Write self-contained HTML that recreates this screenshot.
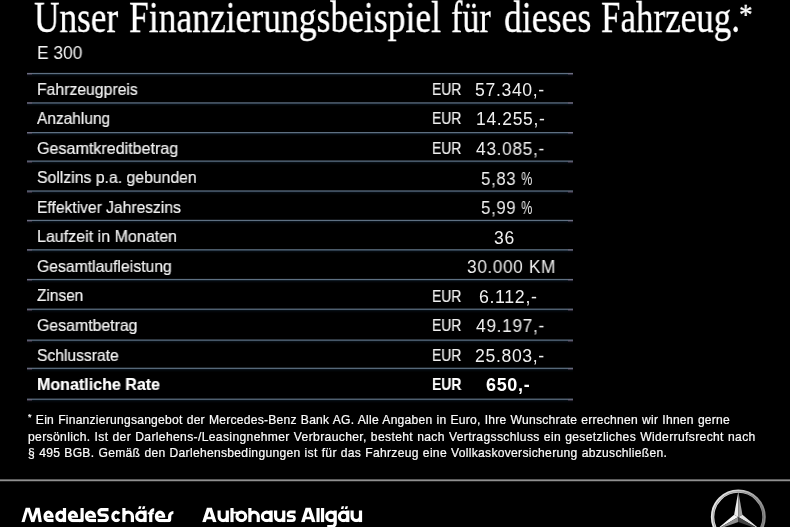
<!DOCTYPE html>
<html><head><meta charset="utf-8">
<style>
html,body{margin:0;padding:0;background:#000;}
body{width:790px;height:527px;position:relative;overflow:hidden;-webkit-font-smoothing:antialiased;font-family:"Liberation Sans",sans-serif;color:#fff;}
.title{will-change:transform;position:absolute;left:34.3px;top:-5.9px;font-family:"Liberation Serif",serif;font-size:44px;line-height:48px;white-space:nowrap;transform-origin:0 0;transform:scaleX(0.805);color:#fff;-webkit-text-stroke:0.35px #fff;}
.model{will-change:transform;position:absolute;left:37.3px;top:43px;font-size:18px;line-height:20px;white-space:nowrap;transform-origin:0 0;transform:scaleX(0.965);color:#f4f4f4;}
.ln{position:absolute;left:27px;width:546px;height:6px;}
.lnend{position:absolute;width:5px;height:2px;background:rgba(150,110,140,0.28);}
.lab,.eur,.val{will-change:transform;position:absolute;white-space:nowrap;line-height:20px;color:#f0f0f0;-webkit-text-stroke:0.2px #f0f0f0;}
.lab{left:36.8px;font-size:16.5px;letter-spacing:0;transform-origin:0 0;transform:scaleX(0.94);}
.eur{left:431.5px;font-size:17px;transform-origin:0 0;transform:scaleX(0.82);}
.val{left:475px;font-size:17.5px;letter-spacing:0.65px;transform-origin:0 0;-webkit-text-stroke:0;}
.pc{display:inline-block;transform-origin:0 0;transform:scaleX(0.73);}
.b{font-weight:bold;color:#fff;}
.foot{will-change:transform;position:absolute;left:28px;font-size:12.1px;line-height:16px;white-space:nowrap;color:#fafafa;-webkit-text-stroke:0.22px #fafafa;}
.ast{font-size:9px;position:relative;top:-3.6px;line-height:0;}
.f1{top:411.8px;letter-spacing:0.238px;word-spacing:0.5px;}.f2{top:428.6px;letter-spacing:0.36px;word-spacing:0.4px;}.f3{top:445.1px;letter-spacing:0.295px;word-spacing:0.45px;}
.hr{position:absolute;left:0;top:479px;width:790px;height:3px;background:linear-gradient(#5a5a5a 0,#5a5a5a 1px,#909090 1px,#909090 2px,#222 2px,#222 3px);}
</style></head><body>
<div class="title" style="left:34.20px;transform:scaleX(0.8010)">Unser</div>
<div class="title" style="left:128.69px;transform:scaleX(0.8078)">Finanzierungsbeispiel</div>
<div class="title" style="left:451.13px;transform:scaleX(0.7740)">für</div>
<div class="title" style="left:503.79px;transform:scaleX(0.8114)">dieses</div>
<div class="title" style="left:600.70px;transform:scaleX(0.7953)">Fahrzeug.</div>
<div class="title" style="left:739.0px;top:-9.7px;font-size:30px;transform:scaleX(0.9)">*</div>
<div class="model">E 300</div>
<div class="ln" style="top:71px;background:linear-gradient(rgb(0,0,0) 0px,rgb(0,0,0) 1px,rgb(9,11,13) 1px,rgb(9,11,13) 2px,rgb(94,112,130) 2px,rgb(94,112,130) 3px,rgb(18,29,39) 3px,rgb(18,29,39) 4px,rgb(4,8,12) 4px,rgb(4,8,12) 5px,rgb(2,3,5) 5px,rgb(2,3,5) 6px)"></div>
<div class="lnend" style="top:73px;left:27px"></div><div class="lnend" style="top:73px;left:568px"></div>
<div class="lab l0" style="top:79px;transform:scaleX(0.9549)">Fahrzeugpreis</div>
<div class="eur" style="top:80px">EUR</div>
<div class="val v0" style="top:80px;left:474.69px;transform:scaleX(1.0060)">57.340,-</div>
<div class="ln" style="top:100px;background:linear-gradient(rgb(0,0,0) 0px,rgb(0,0,0) 1px,rgb(0,0,0) 1px,rgb(0,0,0) 2px,rgb(66,78,91) 2px,rgb(66,78,91) 3px,rgb(54,70,86) 3px,rgb(54,70,86) 4px,rgb(6,11,17) 4px,rgb(6,11,17) 5px,rgb(2,5,7) 5px,rgb(2,5,7) 6px)"></div>
<div class="lnend" style="top:102px;left:27px"></div><div class="lnend" style="top:102px;left:568px"></div>
<div class="lab l1" style="top:108px;transform:scaleX(0.9374)">Anzahlung</div>
<div class="eur" style="top:109px">EUR</div>
<div class="val v1" style="top:109px;left:475.51px;transform:scaleX(0.9940)">14.255,-</div>
<div class="ln" style="top:130px;background:linear-gradient(rgb(0,0,0) 0px,rgb(0,0,0) 1px,rgb(0,0,0) 1px,rgb(0,0,0) 2px,rgb(94,112,130) 2px,rgb(94,112,130) 3px,rgb(27,39,52) 3px,rgb(27,39,52) 4px,rgb(4,9,13) 4px,rgb(4,9,13) 5px,rgb(2,3,5) 5px,rgb(2,3,5) 6px)"></div>
<div class="lnend" style="top:132px;left:27px"></div><div class="lnend" style="top:132px;left:568px"></div>
<div class="lab l2" style="top:138px;transform:scaleX(0.9748)">Gesamtkreditbetrag</div>
<div class="eur" style="top:139px">EUR</div>
<div class="val v2" style="top:139px;left:475.70px;transform:scaleX(0.9912)">43.085,-</div>
<div class="ln" style="top:159px;background:linear-gradient(rgb(0,0,0) 0px,rgb(0,0,0) 1px,rgb(47,56,65) 1px,rgb(47,56,65) 2px,rgb(70,87,104) 2px,rgb(70,87,104) 3px,rgb(7,14,20) 3px,rgb(7,14,20) 4px,rgb(3,5,8) 4px,rgb(3,5,8) 5px,rgb(1,2,3) 5px,rgb(1,2,3) 6px)"></div>
<div class="lnend" style="top:161px;left:27px"></div><div class="lnend" style="top:161px;left:568px"></div>
<div class="lab l3" style="top:167px;transform:scaleX(0.9566)">Sollzins p.a. gebunden</div>
<div class="val v3" style="top:169px;left:480.84px;transform:scaleX(0.9600)">5,83 <span class=pc>%</span></div>
<div class="ln" style="top:189px;background:linear-gradient(rgb(0,0,0) 0px,rgb(0,0,0) 1px,rgb(56,67,78) 1px,rgb(56,67,78) 2px,rgb(62,78,95) 2px,rgb(62,78,95) 3px,rgb(6,12,19) 3px,rgb(6,12,19) 4px,rgb(2,5,7) 4px,rgb(2,5,7) 5px,rgb(1,2,3) 5px,rgb(1,2,3) 6px)"></div>
<div class="lnend" style="top:191px;left:27px"></div><div class="lnend" style="top:191px;left:568px"></div>
<div class="lab l4" style="top:197px;transform:scaleX(0.9465)">Effektiver Jahreszins</div>
<div class="val v4" style="top:198px;left:480.84px;transform:scaleX(0.9600)">5,99 <span class=pc>%</span></div>
<div class="ln" style="top:218px;background:linear-gradient(rgb(0,0,0) 0px,rgb(0,0,0) 1px,rgb(19,22,26) 1px,rgb(19,22,26) 2px,rgb(94,112,130) 2px,rgb(94,112,130) 3px,rgb(9,18,27) 3px,rgb(9,18,27) 4px,rgb(4,7,11) 4px,rgb(4,7,11) 5px,rgb(1,3,4) 5px,rgb(1,3,4) 6px)"></div>
<div class="lnend" style="top:220px;left:27px"></div><div class="lnend" style="top:220px;left:568px"></div>
<div class="lab l5" style="top:226px;transform:scaleX(0.9725)">Laufzeit in Monaten</div>
<div class="val v5" style="top:228px;left:493.92px;transform:scaleX(0.9842)">36</div>
<div class="ln" style="top:247px;background:linear-gradient(rgb(0,0,0) 0px,rgb(0,0,0) 1px,rgb(0,0,0) 1px,rgb(0,0,0) 2px,rgb(75,90,104) 2px,rgb(75,90,104) 3px,rgb(45,60,75) 3px,rgb(45,60,75) 4px,rgb(5,10,15) 4px,rgb(5,10,15) 5px,rgb(2,4,6) 5px,rgb(2,4,6) 6px)"></div>
<div class="lnend" style="top:249px;left:27px"></div><div class="lnend" style="top:249px;left:568px"></div>
<div class="lab l6" style="top:256px;transform:scaleX(0.9538)">Gesamtlaufleistung</div>
<div class="val v6" style="top:257px;left:466.62px;transform:scaleX(0.9830)">30.000 KM</div>
<div class="ln" style="top:277px;background:linear-gradient(rgb(0,0,0) 0px,rgb(0,0,0) 1px,rgb(9,11,13) 1px,rgb(9,11,13) 2px,rgb(94,112,130) 2px,rgb(94,112,130) 3px,rgb(18,29,39) 3px,rgb(18,29,39) 4px,rgb(4,8,12) 4px,rgb(4,8,12) 5px,rgb(2,3,5) 5px,rgb(2,3,5) 6px)"></div>
<div class="lnend" style="top:279px;left:27px"></div><div class="lnend" style="top:279px;left:568px"></div>
<div class="lab l7" style="top:285px;transform:scaleX(0.9347)">Zinsen</div>
<div class="eur" style="top:287px">EUR</div>
<div class="val v7" style="top:287px;left:478.69px;transform:scaleX(1.0143)">6.112,-</div>
<div class="ln" style="top:307px;background:linear-gradient(rgb(0,0,0) 0px,rgb(0,0,0) 1px,rgb(38,45,52) 1px,rgb(38,45,52) 2px,rgb(78,95,112) 2px,rgb(78,95,112) 3px,rgb(7,15,22) 3px,rgb(7,15,22) 4px,rgb(3,6,9) 4px,rgb(3,6,9) 5px,rgb(1,2,4) 5px,rgb(1,2,4) 6px)"></div>
<div class="lnend" style="top:309px;left:27px"></div><div class="lnend" style="top:309px;left:568px"></div>
<div class="lab l8" style="top:315px;transform:scaleX(0.9615)">Gesamtbetrag</div>
<div class="eur" style="top:316px">EUR</div>
<div class="val v8" style="top:316px;left:475.70px;transform:scaleX(0.9912)">49.197,-</div>
<div class="ln" style="top:338px;background:linear-gradient(rgb(0,0,0) 0px,rgb(0,0,0) 1px,rgb(47,56,65) 1px,rgb(47,56,65) 2px,rgb(70,87,104) 2px,rgb(70,87,104) 3px,rgb(7,14,20) 3px,rgb(7,14,20) 4px,rgb(3,5,8) 4px,rgb(3,5,8) 5px,rgb(1,2,3) 5px,rgb(1,2,3) 6px)"></div>
<div class="lnend" style="top:340px;left:27px"></div><div class="lnend" style="top:340px;left:568px"></div>
<div class="lab l9" style="top:345px;transform:scaleX(0.9478)">Schlussrate</div>
<div class="eur" style="top:346px">EUR</div>
<div class="val v9" style="top:346px;left:474.69px;transform:scaleX(1.0060)">25.803,-</div>
<div class="ln" style="top:366px;background:linear-gradient(rgb(0,0,0) 0px,rgb(0,0,0) 1px,rgb(28,34,39) 1px,rgb(28,34,39) 2px,rgb(86,104,121) 2px,rgb(86,104,121) 3px,rgb(8,16,24) 3px,rgb(8,16,24) 4px,rgb(3,7,10) 4px,rgb(3,7,10) 5px,rgb(1,3,4) 5px,rgb(1,3,4) 6px)"></div>
<div class="lnend" style="top:368px;left:27px"></div><div class="lnend" style="top:368px;left:568px"></div>
<div class="lab b l10" style="top:374px;transform:scaleX(0.9725)">Monatliche Rate</div>
<div class="eur b" style="top:375px">EUR</div>
<div class="val b v10" style="top:375px;left:486.20px;transform:scaleX(1.0286)">650,-</div>
<div class="ln" style="top:397px;background:linear-gradient(rgb(0,0,0) 0px,rgb(0,0,0) 1px,rgb(38,45,52) 1px,rgb(38,45,52) 2px,rgb(78,95,112) 2px,rgb(78,95,112) 3px,rgb(7,15,22) 3px,rgb(7,15,22) 4px,rgb(3,6,9) 4px,rgb(3,6,9) 5px,rgb(1,2,4) 5px,rgb(1,2,4) 6px)"></div>
<div class="lnend" style="top:399px;left:27px"></div><div class="lnend" style="top:399px;left:568px"></div>
<div class="foot f1"><span class="ast">*</span> Ein Finanzierungsangebot der Mercedes-Benz Bank AG. Alle Angaben in Euro, Ihre Wunschrate errechnen wir Ihnen gerne</div>
<div class="foot f2">persönlich. Ist der Darlehens-/Leasingnehmer Verbraucher, besteht nach Vertragsschluss ein gesetzliches Widerrufsrecht nach</div>
<div class="foot f3">§ 495 BGB. Gemäß den Darlehensbedingungen ist für das Fahrzeug eine Vollkaskoversicherung abzuschließen.</div>
<div class="hr"></div>
<svg style="position:absolute;left:0;top:490px;filter:blur(0.35px)" width="400" height="37" viewBox="0 490 400 37">
<defs><clipPath id="cb"><rect x="0" y="490" width="400" height="32.20"/></clipPath></defs>
<g fill="none" stroke="#fff" stroke-width="3.2" stroke-linejoin="round" stroke-linecap="butt">
<g clip-path="url(#cb)">
<path d="M21.40,522.30L25.70,507.80L28.90,507.80L24.60,522.30ZM31.20,522.30L26.70,507.80L29.90,507.80L34.40,522.30ZM31.20,522.30L35.60,507.80L38.80,507.80L34.40,522.30ZM38.70,522.30L36.40,507.80L39.60,507.80L41.90,522.30Z" fill="#fff" stroke="none"/>
<path d="M51.90,516.80V516.40A3.45,4.20 0 0 0 48.45,512.20A3.45,4.20 0 0 0 45.00,516.40A3.45,4.20 0 0 0 48.45,520.60H53.50"/>
<path d="M45.00,516.75H53.50" stroke-width="1.9"/>
<path d="M64.50,516.40A3.85,4.20 0 1 0 56.80,516.40A3.85,4.20 0 1 0 64.50,516.40ZM64.50,508.00V522.20"/>
<path d="M76.40,516.80V516.40A3.50,4.20 0 0 0 72.90,512.20A3.50,4.20 0 0 0 69.40,516.40A3.50,4.20 0 0 0 72.90,520.60H80.00"/>
<path d="M69.40,516.75H78.00" stroke-width="1.9"/>
<path d="M82.10,508.00V520.60H79.00"/>
<path d="M94.40,516.80V516.40A3.95,4.20 0 0 0 90.45,512.20A3.95,4.20 0 0 0 86.50,516.40A3.95,4.20 0 0 0 90.45,520.60H96.00"/>
<path d="M86.50,516.75H96.00" stroke-width="1.9"/>
<path d="M108.50,509.60H101.65A2.75,2.75 0 0 0 98.90,512.35A2.75,2.75 0 0 0 101.65,515.10H104.55A2.75,2.75 0 0 1 107.30,517.85A2.75,2.75 0 0 1 104.55,520.60H97.70"/>
<path d="M119.04,513.93A3.45,4.20 0 1 0 119.04,518.87"/>
<path d="M123.90,508.00V522.20M123.90,516.40A4.25,4.20 0 0 1 128.15,512.20A4.25,4.20 0 0 1 132.40,516.40V522.20"/>
<path d="M145.10,516.40A4.20,4.20 0 1 0 136.70,516.40A4.20,4.20 0 1 0 145.10,516.40ZM145.10,510.60V522.20"/>
<path d="M154.20,509.90H153.95A3.20,3.20 0 0 0 150.75,513.10V522.20"/>
<path d="M147.70,513.40H153.80" stroke-width="1.9"/>
<path d="M163.60,516.80V516.40A3.60,4.20 0 0 0 160.00,512.20A3.60,4.20 0 0 0 156.40,516.40A3.60,4.20 0 0 0 160.00,520.60H165.20"/>
<path d="M156.40,516.75H165.20" stroke-width="1.9"/>
<path d="M164.50,520.60H168.45Q169.65,520.60 169.65,519.00V516.25A3.75,3.75 0 0 1 173.40,512.50"/>
<path d="M202.15,522.30L206.90,507.80L210.50,507.80L205.75,522.30ZM213.00,522.30L208.30,507.80L211.90,507.80L216.60,522.30ZM205.15,516.70H213.60V519.20H205.15Z" fill="#fff" stroke="none"/>
<path d="M219.10,510.60V516.40A4.10,4.20 0 0 0 223.20,520.60A4.10,4.20 0 0 0 227.30,516.40M227.30,510.60V522.20"/>
<path d="M232.00,508.10V522.20"/>
<path d="M232.00,512.65H238.50" stroke-width="1.9"/>
<path d="M245.70,516.40A4.35,4.20 0 1 0 237.00,516.40A4.35,4.20 0 1 0 245.70,516.40Z"/>
<path d="M249.90,508.00V522.20M249.90,516.40A4.17,4.20 0 0 1 254.07,512.20A4.17,4.20 0 0 1 258.25,516.40V522.20"/>
<path d="M271.10,516.40A4.35,4.20 0 1 0 262.40,516.40A4.35,4.20 0 1 0 271.10,516.40ZM271.10,510.60V522.20"/>
<path d="M275.60,510.60V516.40A4.07,4.20 0 0 0 279.68,520.60A4.07,4.20 0 0 0 283.75,516.40M283.75,510.60V522.20"/>
<path d="M295.60,512.00H290.25A2.15,2.15 0 0 0 288.10,514.15A2.15,2.15 0 0 0 290.25,516.30H292.25A2.15,2.15 0 0 1 294.40,518.45A2.15,2.15 0 0 1 292.25,520.60H286.90" stroke-width="2.8"/>
<path d="M301.05,522.30L305.60,507.80L309.20,507.80L304.65,522.30ZM311.95,522.30L307.10,507.80L310.70,507.80L315.55,522.30ZM304.05,516.70H312.55V519.20H304.05Z" fill="#fff" stroke="none"/>
<path d="M318.05,508.00V522.20"/>
<path d="M322.55,508.00V522.20"/>
<path d="M347.80,516.40A4.20,4.20 0 1 0 339.40,516.40A4.20,4.20 0 1 0 347.80,516.40ZM347.80,510.60V522.20"/>
<path d="M352.10,510.60V516.40A4.20,4.20 0 0 0 356.30,520.60A4.20,4.20 0 0 0 360.50,516.40M360.50,510.60V522.20"/>
</g>
<path d="M335.20,516.40A4.25,4.20 0 1 0 326.70,516.40A4.25,4.20 0 1 0 335.20,516.40ZM335.20,510.60V523.50A4.25,3.20 0 0 1 330.95,526.70H327.20"/>
<path d="M138.20,508.90L139.00,506.30L141.40,506.30L140.60,508.90Z" fill="#fff" stroke="none"/><path d="M142.10,508.90L142.90,506.30L145.30,506.30L144.50,508.90Z" fill="#fff" stroke="none"/><path d="M340.90,508.90L341.70,506.30L344.10,506.30L343.30,508.90Z" fill="#fff" stroke="none"/><path d="M344.80,508.90L345.60,506.30L348.00,506.30L347.20,508.90Z" fill="#fff" stroke="none"/>
</g></svg>

<svg style="position:absolute;left:700px;top:480px" width="90" height="47" viewBox="700 480 90 47">
<defs><linearGradient id="rg" x1="0" y1="0" x2="1" y2="0"><stop offset="0" stop-color="#e6e6e6"/><stop offset="0.5" stop-color="#d2d2d2"/><stop offset="1" stop-color="#8c8c8c"/></linearGradient></defs>
<circle cx="738.3" cy="516.9" r="25.75" fill="none" stroke="url(#rg)" stroke-width="3.4"/>
<circle cx="738.3" cy="516.9" r="25.3" fill="none" stroke="#555" stroke-width="0.7" opacity="0.6"/>
<path d="M738.30,491.50L734.14,514.70L738.30,517.10Z" fill="#ededed"/>
<path d="M738.30,491.50L742.46,514.70L738.30,517.10Z" fill="#a2a2a2"/>
<path d="M715.96,530.00L734.14,514.70L738.30,517.10Z" fill="#f6f6f6"/>
<path d="M715.96,530.00L738.30,521.90L738.30,517.10Z" fill="#8e8e8e"/>
<path d="M760.64,530.00L742.46,514.70L738.30,517.10Z" fill="#e4e4e4"/>
<path d="M760.64,530.00L738.30,521.90L738.30,517.10Z" fill="#444"/>
</svg>

</body></html>
